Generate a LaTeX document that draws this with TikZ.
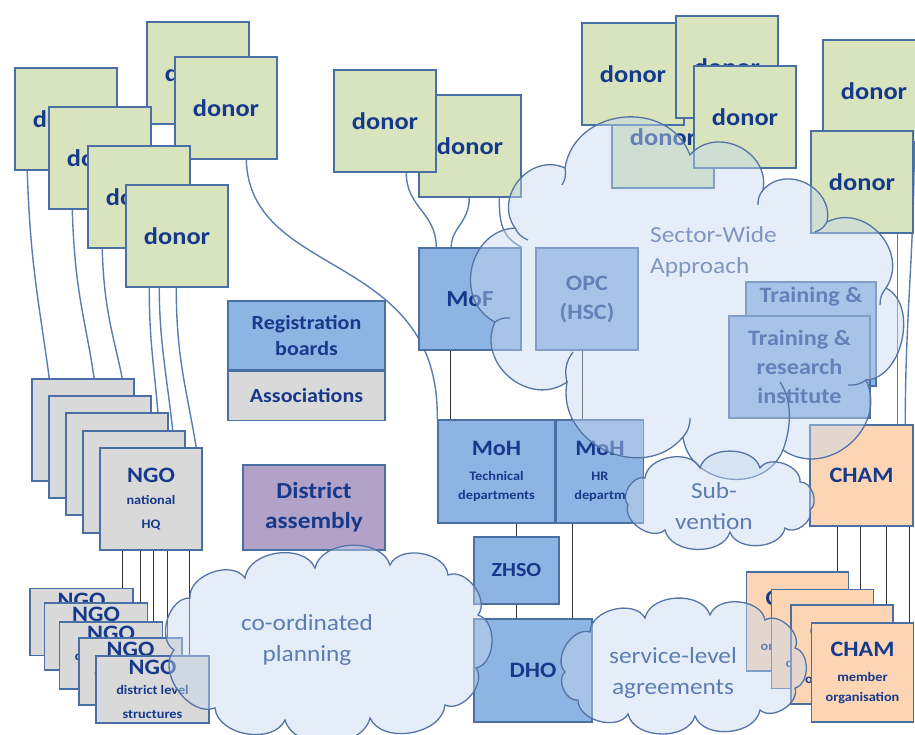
\documentclass[tikz,border=0pt]{standalone}
\usepackage{fontspec}
\setmainfont[FakeStretch=1.1]{Carlito}
\usetikzlibrary{positioning}
\definecolor{donorgreen}{HTML}{D7E4BD}
\definecolor{edgeblue}{HTML}{4A6FA5}
\definecolor{boxblue}{HTML}{8EB4E3}
\definecolor{boxgrey}{HTML}{D9D9D9}
\definecolor{boxpurple}{HTML}{B3A2C7}
\definecolor{boxpeach}{HTML}{FCD5B4}
\definecolor{labelblue}{HTML}{17398C}
\definecolor{cloudfill}{HTML}{C6D8EF}
\definecolor{cloudedge}{HTML}{5574A6}
\definecolor{cloudtext}{HTML}{5D7DB2}
\definecolor{swaptext}{HTML}{8096C0}
\definecolor{wireblue}{HTML}{5A7DB0}
\definecolor{linkgrey}{HTML}{333333}
\newcommand\lblbig{\fontsize{22}{24}\selectfont\bfseries}
\newcommand\lblsmall{\fontsize{13}{16}\selectfont\bfseries}
\newcommand\lblcloud{\fontsize{23}{31}\selectfont}
\pgfdeclarelayer{wires}
\pgfsetlayers{wires,main}
\begin{document}
\begin{tikzpicture}[x=1pt, y=-1pt,
    box/.style={draw=edgeblue, line width=1.5pt, inner sep=0pt, align=center, text=labelblue, font=\lblbig},
    donorbox/.style={box, fill=donorgreen, minimum width=102pt, minimum height=102pt, font=\fontsize{24}{26}\selectfont\bfseries},
    govbox/.style={box, fill=boxblue},
    ngobox/.style={box, fill=boxgrey},
    chambox/.style={box, fill=boxpeach},
    wire/.style={draw=wireblue, line width=1.4pt},
    orgline/.style={draw=linkgrey, line width=1.4pt},
    cloudshape/.style={draw=cloudedge, line width=1.3pt, fill=cloudfill, fill opacity=0.45},
    stub/.style={draw=cloudedge, line width=1.3pt},
    puff/.style={bend left=75, looseness=1.25},
    smallpuff/.style={bend left=75, looseness=1.0},
    cloudlbl/.style={inner sep=0pt, text=cloudtext, font=\lblcloud, align=center}]
\useasboundingbox (0,0) rectangle (915,734);

\node[donorbox] (d1) at (66,119) {donor};
\node[donorbox] (d2) at (198,73) {donor};
\node[donorbox] (d3) at (226,108) {donor};
\node[donorbox] (d4) at (100,158) {donor};
\node[donorbox] (d5) at (139,197) {donor};
\node[donorbox] (d6) at (177,236) {donor};
\node[donorbox] (d8) at (470,146) {donor};
\node[donorbox] (d7) at (385,121) {donor};
\node[donorbox] (d12) at (663,137) {donor};
\node[donorbox] (d9) at (633,74) {donor};
\node[donorbox] (d10) at (727,67) {donor};
\node[donorbox] (d11) at (745,117) {donor};
\node[donorbox] (d13) at (874,91) {donor};
\node[donorbox] (d14) at (862,182) {donor};

\node[govbox, minimum width=157pt, minimum height=69pt, font=\fontsize{20}{26}\selectfont\bfseries] (reg) at (306.5,335.5) {Registration\\boards};
\node[ngobox, minimum width=157pt, minimum height=49pt, font=\fontsize{20}{26}\selectfont\bfseries, below=0pt of reg] (assoc) {Associations};
\node[box, fill=boxpurple, minimum width=142pt, minimum height=85pt, font=\fontsize{23}{30}\selectfont\bfseries] (distass) at (314,507.5) {District\\assembly};

\node[govbox, minimum width=102pt, minimum height=102pt, font=\fontsize{23}{26}\selectfont\bfseries] (mof) at (470,299) {MoF};
\node[govbox, minimum width=102pt, minimum height=102pt, font=\fontsize{22}{29}\selectfont\bfseries] (opc) at (587,299) {OPC\\(HSC)};
\node[govbox, minimum width=117pt, minimum height=103pt] (mohtech) at (496.5,471.5) {MoH\\[1pt]\lblsmall Technical\\[-5pt]\lblsmall departments};
\node[govbox, minimum width=87pt, minimum height=103pt, right=0pt of mohtech] (mohhr) {MoH\\[1pt]\lblsmall HR\\[-5pt]\lblsmall departm};
\node[govbox, minimum width=85pt, minimum height=67pt, font=\fontsize{20}{24}\selectfont\bfseries] (zhso) at (516.5,570.5) {ZHSO};
\node[govbox, minimum width=118pt, minimum height=103pt] (dho) at (533,670.5) {DHO};

\node[govbox, minimum width=130pt, minimum height=104pt,
  label={[font=\lblbig, text=labelblue, anchor=north, inner sep=0pt, yshift=-6pt]north:Training \&}] (trb) at (811,334) {};
\node[govbox, minimum width=141pt, minimum height=102pt, font=\fontsize{22}{29}\selectfont\bfseries] (trf) at (799.5,367) {Training \&\\research\\institute};

\node[chambox, minimum width=103pt, minimum height=101pt] (cham) at (861.5,475.5) {CHAM};
\node[chambox, minimum width=102pt, minimum height=99pt] (m1) at (797.5,621.5) {CHAM\\[1pt]\lblsmall member\\[-4pt]\lblsmall organisation};
\node[chambox, minimum width=102pt, minimum height=99pt] (m2) at (822.5,639) {CHAM\\[1pt]\lblsmall member\\[-4pt]\lblsmall organisation};
\node[chambox, minimum width=102pt, minimum height=99pt] (m3) at (842,654.5) {CHAM\\[1pt]\lblsmall member\\[-4pt]\lblsmall organisation};
\node[chambox, minimum width=102pt, minimum height=99pt] (m4) at (862.5,672.5) {CHAM\\[1pt]\lblsmall member\\[-4pt]\lblsmall organisation};

\node[ngobox, minimum width=102pt, minimum height=102pt] (n1) at (83,430) {NGO\\[-2pt]\lblsmall national\\\lblsmall HQ};
\node[ngobox, minimum width=102pt, minimum height=102pt] (n2) at (100,447) {NGO\\[-2pt]\lblsmall national\\\lblsmall HQ};
\node[ngobox, minimum width=102pt, minimum height=102pt] (n3) at (117,464) {NGO\\[-2pt]\lblsmall national\\\lblsmall HQ};
\node[ngobox, minimum width=102pt, minimum height=102pt] (n4) at (134,482) {NGO\\[-2pt]\lblsmall national\\\lblsmall HQ};
\node[ngobox, minimum width=102pt, minimum height=102pt] (n5) at (151,499) {NGO\\[-2pt]\lblsmall national\\\lblsmall HQ};

\node[ngobox, minimum width=103pt, minimum height=67pt] (g1) at (81.5,622) {NGO\\[-4pt]\lblsmall district level\\\lblsmall structures};
\node[ngobox, minimum width=103pt, minimum height=67pt] (g2) at (96,636.5) {NGO\\[-4pt]\lblsmall district level\\\lblsmall structures};
\node[ngobox, minimum width=103pt, minimum height=67pt] (g3) at (111,655.5) {NGO\\[-4pt]\lblsmall district level\\\lblsmall structures};
\node[ngobox, minimum width=103pt, minimum height=67pt] (g4) at (130.5,671.5) {NGO\\[-4pt]\lblsmall district level\\\lblsmall structures};
\node[ngobox, minimum width=113pt, minimum height=67pt] (g5) at (152.5,689.5) {NGO\\[-4pt]\lblsmall district level\\\lblsmall structures};

\begin{pgfonlayer}{wires}
\draw[wire] ([xshift=13pt]d1.south west) .. controls +(3,95) and +(-10,-75) .. ([xshift=18pt]n1.north west);
\draw[wire] ([xshift=24pt]d4.south west) .. controls +(3,95) and +(-8,-70) .. ([xshift=48pt]n2.north west);
\draw[wire] ([xshift=15pt]d5.south west) .. controls +(2,80) and +(-6,-60) .. ([xshift=62pt]n3.north west);
\draw[wire] ([xshift=24pt]d6.south west) .. controls +(0,60) and +(-4,-60) .. ([xshift=77pt]n4.north west);
\draw[wire] ([xshift=34pt]d6.south west) .. controls +(0,60) and +(-5,-60) .. ([xshift=75pt]n5.north west);
\draw[wire] ([xshift=51pt]d6.south west) .. controls +(0,70) and +(-10,-60) .. ([xshift=97pt]n5.north west);
\draw[wire] ([xshift=72pt]d3.south west) .. controls (250,280) and (440,250) .. (mohtech.north west);
\draw[wire] ([xshift=73pt]d7.south west) .. controls +(0,35) and +(0,-35) .. ([xshift=18pt]mof.north west);
\draw[wire] ([xshift=51pt]d8.south west) .. controls +(0,25) and +(0,-20) .. ([xshift=33pt]mof.north west);
\draw[wire] ([xshift=81pt]d8.south west) .. controls +(0,25) and +(-20,-10) .. (mof.north east);
\draw[wire] ([xshift=87pt]d14.south west) -- ([xshift=87pt]d14.south west |- cham.north);
\draw[wire] ([xshift=92pt]d13.south west) .. controls +(0,110) and +(0,-110) .. ([xshift=96pt]cham.north west);

\draw[orgline] ([xshift=32pt]mof.south west) -- ([xshift=32pt]mof.south west |- mohtech.north);
\draw[orgline] ([xshift=47pt]opc.south west) -- ([xshift=47pt]opc.south west |- mohhr.north);
\draw[orgline] (zhso.north |- mohtech.south) -- (zhso.north);
\draw[orgline] (zhso.south) -- (zhso.south |- dho.north);
\draw[orgline] ([xshift=17pt]mohhr.south west) -- ([xshift=17pt]mohhr.south west |- dho.north);
\foreach \dx/\m in {28/m1,51/m2,77/m3,100/m4}
  \draw[orgline] ([xshift=\dx pt]cham.south west) -- ([xshift=\dx pt]cham.south west |- \m.north);
\foreach \dx/\g in {23/g1,41/g2,54/g3,68/g4,90/g5}
  \draw[orgline] ([xshift=\dx pt]n5.south west) -- ([xshift=\dx pt]n5.south west |- \g.north);
\end{pgfonlayer}

\draw[cloudshape] (495,322) to[puff] (515,228) to[puff] (565,168) to[puff] (690,155) to[puff] (763,190)
  to[puff] (827,222) to[puff] (886,288) to[puff, looseness=1] (866,380) to[puff] (783,450)
  to[puff] (683,437) to[puff] (567,382) to[puff] cycle;
\draw[stub] (495,322) to[bend left=20] (510,318);
\draw[stub] (515,228) to[bend right=20] (528,240);
\draw[stub] (565,168) to[bend left=20] (562,185);
\draw[stub] (763,190) to[bend right=20] (758,205);
\draw[stub] (827,222) to[bend left=20] (815,232);
\draw[stub] (886,288) to[bend right=20] (880,305);
\draw[stub] (866,380) to[bend left=20] (848,385);
\draw[stub] (783,450) .. controls (792,425) and (792,400) .. (780,382);
\draw[stub] (683,437) to[bend right=20] (690,418);
\draw[stub] (567,382) to[bend left=25] (573,352);
\draw[cloudshape] (628,505) to[smallpuff] (645,478) to[smallpuff] (700,468) to[smallpuff] (760,468) to[smallpuff] (800,482)
  to[smallpuff] (810,510) to[smallpuff] (785,528) to[smallpuff] (730,532) to[smallpuff] (665,530) to[smallpuff] cycle;
\draw[cloudshape] (565,672) to[smallpuff] (590,632) to[smallpuff] (645,618) to[smallpuff] (710,615) to[smallpuff] (765,620)
  to[smallpuff] (795,648) to[smallpuff] (795,688) to[smallpuff] (760,710) to[smallpuff] (695,716) to[smallpuff] (628,714)
  to[smallpuff] (578,700) to[smallpuff] cycle;
\draw[cloudshape] (174,650) to[smallpuff] (190,598) to[smallpuff] (245,578) to[smallpuff] (315,568) to[smallpuff] (390,565)
  to[smallpuff] (448,575) to[smallpuff] (478,615) to[smallpuff] (476,668) to[smallpuff] (445,705) to[smallpuff] (370,718)
  to[smallpuff] (285,720) to[smallpuff] (215,708) to[smallpuff] cycle;

\node[cloudlbl, text=swaptext, align=left, anchor=north west] (swap) at (650,226) {Sector-Wide\\Approach};
\node[cloudlbl] (subv) at (714,506) {Sub-\\vention};
\node[cloudlbl] (sla) at (673,673) {service-level\\agreements};
\node[cloudlbl] (coord) at (307,640) {co-ordinated\\planning};
\end{tikzpicture}
\end{document}
